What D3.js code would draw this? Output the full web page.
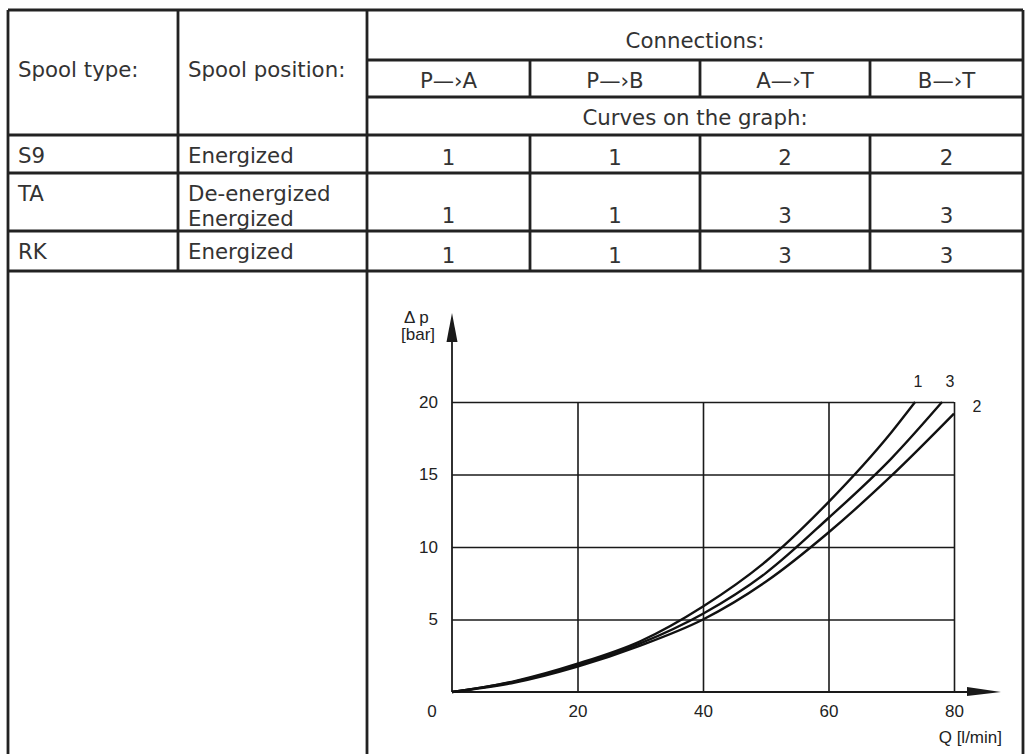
<!DOCTYPE html>
<html>
<head>
<meta charset="utf-8">
<script src="https://cdn.jsdelivr.net/npm/d3@7"></script>
<style>
  body { margin: 0; background: #fff; }
  .cell { font-family: "DejaVu Sans", Verdana, sans-serif; font-size: 21.3px; fill: #333; }
  .chartText { font-family: "Liberation Sans", Arial, sans-serif; font-size: 17px; fill: #222; }
  .axis .domain { display: none; }
  .axis line { stroke: #1a1a1a; stroke-width: 1.6; }
  .axis text { font-family: "Liberation Sans", Arial, sans-serif; font-size: 17px; fill: #222; }
</style>
</head>
<body>
<div class="chart"></div>
<script>
const width = 1031;
const height = 754;

// table content
const headCols = ["Spool type:", "Spool position:"];
const connTitle = "Connections:";
const connections = ["P—›A", "P—›B", "A—›T", "B—›T"];
const curvesTitle = "Curves on the graph:";
const spoolTypes = ["S9", "TA", "RK"];
const spoolPositions = [["Energized"], ["De-energized", "Energized"], ["Energized"]];
const curveRefs = [[1, 1, 2, 2], [1, 1, 3, 3], [1, 1, 3, 3]];

// graph content
const curveNames = ["1", "2", "3"];
const flow1 = [0, 10, 20, 30, 40, 50, 60, 70, 73.8];
const dp1   = [0, 0.75, 1.95, 3.5, 5.9, 9.0, 13.1, 17.9, 20];
const flow2 = [0, 10, 20, 30, 40, 50, 60, 70, 80];
const dp2   = [0, 0.65, 1.75, 3.2, 5.0, 7.6, 11.0, 14.9, 19.2];
const flow3 = [0, 10, 20, 30, 40, 50, 60, 70, 78.1];
const dp3   = [0, 0.72, 1.85, 3.35, 5.4, 8.2, 12.0, 16.1, 20];
const xTicks = [20, 40, 60, 80];
const yTicks = [5, 10, 15, 20];
const xLabel = "Q [l/min]";
const yLabel = ["Δ p", "[bar]"];

const svg = d3.select(".chart").append("svg")
    .attr("width", width)
    .attr("height", height);

// ---- table grid ----
const colX = [8, 178, 367, 530, 700, 870, 1023];
const rowY = [10, 60, 97, 135, 173, 231, 271];
const lw = 2.8;
const g = svg.append("g").attr("stroke", "#222").attr("stroke-width", lw).attr("fill", "none");

function hline(x1, x2, y) { g.append("line").attr("x1", x1).attr("x2", x2).attr("y1", y).attr("y2", y); }
function vline(x, y1, y2) { g.append("line").attr("x1", x).attr("x2", x).attr("y1", y1).attr("y2", y2); }

hline(colX[0], colX[6], rowY[0]);
hline(colX[2], colX[6], rowY[1]);
hline(colX[2], colX[6], rowY[2]);
for (let i = 3; i <= 6; i++) hline(colX[0], colX[6], rowY[i]);
vline(colX[0], rowY[0], height);
vline(colX[1], rowY[0], rowY[6]);
vline(colX[2], rowY[0], height);
vline(colX[6], rowY[0], height);
for (let i = 3; i <= 5; i++) vline(colX[i], rowY[1], rowY[2]);
for (let i = 3; i <= 5; i++) vline(colX[i], rowY[3], rowY[6]);

const t = svg.append("g").attr("class", "cell");
const midConn = (colX[2] + colX[6]) / 2;
t.append("text").attr("x", colX[0] + 10).attr("y", 77).text(headCols[0]);
t.append("text").attr("x", colX[1] + 10).attr("y", 77).text(headCols[1]);
t.append("text").attr("x", midConn).attr("y", rowY[1] - 12).attr("text-anchor", "middle").text(connTitle);
t.selectAll(".conn").data(connections).enter().append("text")
    .attr("x", (d, i) => (colX[i + 2] + colX[i + 3]) / 2)
    .attr("y", rowY[2] - 9)
    .attr("text-anchor", "middle")
    .text(d => d);
t.append("text").attr("x", midConn).attr("y", rowY[3] - 10).attr("text-anchor", "middle").text(curvesTitle);

spoolTypes.forEach(function (s, r) {
    const bottom = rowY[r + 4];
    const top = rowY[r + 3];
    t.append("text").attr("x", colX[0] + 10).attr("y", top + 28).text(s);
    spoolPositions[r].forEach(function (p, k) {
        t.append("text").attr("x", colX[1] + 10).attr("y", top + 28 + k * 25).text(p);
    });
    curveRefs[r].forEach(function (c, i) {
        t.append("text")
            .attr("x", (colX[i + 2] + colX[i + 3]) / 2)
            .attr("y", bottom - 8)
            .attr("text-anchor", "middle")
            .text(c);
    });
});

// ---- graph ----
const x = d3.scaleLinear().domain([0, 80]).range([452, 954]);
const y = d3.scaleLinear().domain([0, 20]).range([692, 402]);

svg.append("g").attr("class", "axis")
    .attr("transform", "translate(0," + y(0) + ")")
    .call(d3.axisBottom(x).tickValues(xTicks).tickSize(-(y(0) - y(20))).tickPadding(13));

svg.append("g").attr("class", "axis")
    .attr("transform", "translate(" + x(0) + ",0)")
    .call(d3.axisLeft(y).tickValues(yTicks).tickSize(-(x(80) - x(0))).tickPadding(14));

svg.append("text").attr("class", "chartText")
    .attr("x", x(0) - 20).attr("y", y(0) + 25)
    .attr("text-anchor", "middle").text("0");

// axis lines with arrow heads
const ax = svg.append("g").attr("stroke", "#1a1a1a").attr("stroke-width", 1.8);
ax.append("line").attr("x1", x(0)).attr("x2", x(0)).attr("y1", y(0)).attr("y2", 330);
ax.append("line").attr("x1", x(0)).attr("x2", 985).attr("y1", y(0)).attr("y2", y(0));
svg.append("path").attr("fill", "#1a1a1a")
    .attr("d", "M" + x(0) + ",313 L" + (x(0) + 5.5) + ",342 L" + (x(0) - 5.5) + ",342 Z");
svg.append("path").attr("fill", "#1a1a1a")
    .attr("d", "M1001," + y(0) + " L967," + (y(0) - 5) + " L967," + (y(0) + 4) + " Z");

svg.append("text").attr("class", "chartText").attr("x", 404).attr("y", 323).text(yLabel[0]);
svg.append("text").attr("class", "chartText").attr("x", 401).attr("y", 340).text(yLabel[1]);
svg.append("text").attr("class", "chartText").attr("x", 1002).attr("y", 743)
    .attr("text-anchor", "end").text(xLabel);

const curves = [
    {name: curveNames[0], q: flow1, p: dp1},
    {name: curveNames[1], q: flow2, p: dp2},
    {name: curveNames[2], q: flow3, p: dp3}
];
const line = d3.line()
    .x(d => x(d[0]))
    .y(d => y(d[1]))
    .curve(d3.curveMonotoneX);

svg.selectAll(".curve").data(curves).enter().append("path")
    .attr("class", "curve")
    .attr("fill", "none")
    .attr("stroke", "#111")
    .attr("stroke-width", 2.4)
    .attr("d", d => line(d.q.map((v, i) => [v, d.p[i]])));

// curve numbers near the ends
const labelPos = [[918, 387], [977, 412], [950, 387]];
svg.selectAll(".clabel").data(curves).enter().append("text")
    .attr("class", "chartText")
    .style("font-size", "16px")
    .attr("x", (d, i) => labelPos[i][0])
    .attr("y", (d, i) => labelPos[i][1])
    .attr("text-anchor", "middle")
    .text(d => d.name);
</script>
</body>
</html>
